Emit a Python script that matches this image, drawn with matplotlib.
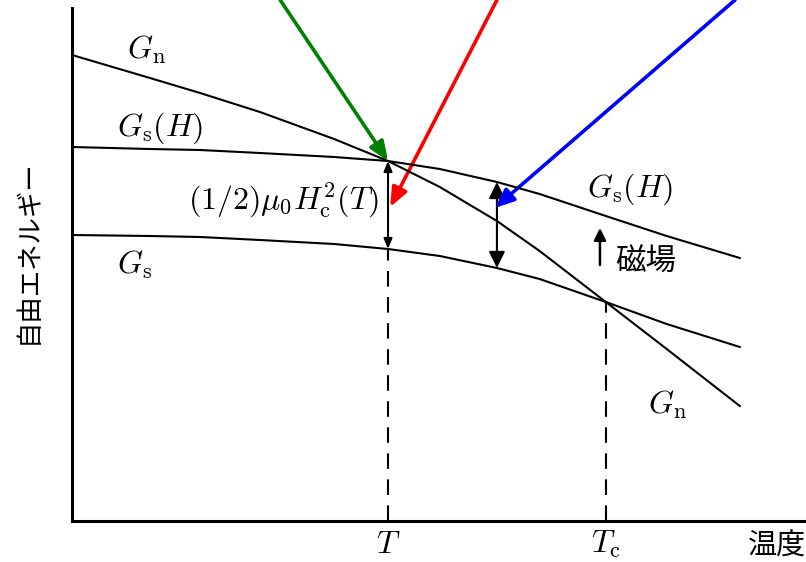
import matplotlib
matplotlib.use('Agg')
import matplotlib.pyplot as plt
from matplotlib.patches import FancyArrowPatch

plt.rcParams['font.family'] = ['Noto Sans CJK JP', 'DejaVu Sans']
plt.rcParams['mathtext.fontset'] = 'cm'

# 温度（T_c = 1 で規格化）
temp = [0.0, 0.146, 0.240, 0.352, 0.491, 0.592, 0.689, 0.796, 0.876, 1.0, 1.114, 1.251]
# 自由エネルギー
g_n = [4.66, 4.43, 4.28, 4.09, 3.82, 3.60, 3.34, 3.00, 2.70, 2.19, 1.72, 1.15]
g_s_h = [3.74, 3.72, 3.71, 3.68, 3.64, 3.60, 3.52, 3.39, 3.27, 3.05, 2.85, 2.63]
g_s = [2.86, 2.85, 2.84, 2.81, 2.77, 2.72, 2.65, 2.53, 2.42, 2.19, 1.97, 1.74]

i_t = 5     # T
i_tc = 9    # T_c
i_mid = 7   # 2本目の両矢印

tick_labels = ['$T$', '$T_\\mathrm{c}$']

# 色付き矢印（始点, 終点）
pointer_colors = ['#008000', '#ff0000', '#0000ff']
pointer_start = [(0.390, 5.21), (0.796, 5.21), (1.242, 5.21)]
pointer_tip = [(0.592, 3.60), (0.596, 3.14), (0.792, 3.13)]

# 磁場の向きを示す小さな矢印
field_arrow = [(0.989, 2.56), (0.989, 2.93)]

fig = plt.figure(figsize=(8.06, 5.62), dpi=100)
ax = fig.add_axes([72 / 806, 41 / 562, 734 / 806, 521 / 562])
ax.set_xlim(0, 1.375)
ax.set_ylim(0, 5.21)

for s in ['top', 'right']:
    ax.spines[s].set_visible(False)
for s in ['left', 'bottom']:
    ax.spines[s].set_linewidth(2.2)
ax.spines['left'].set_bounds(0, 5.13)
ax.set_yticks([])
ax.set_xticks([temp[i_t], temp[i_tc]], tick_labels, fontsize=23)
ax.tick_params(axis='x', length=0, pad=5)

# 曲線
ax.plot(temp, g_n, color='black', lw=1.5)
ax.plot(temp, g_s_h, color='black', lw=1.5)
ax.plot(temp, g_s, color='black', lw=1.5)

# 破線
dash = (0, (7.5, 5.0))
ax.plot([temp[i_t], temp[i_t]], [0, g_s[i_t]], color='black', lw=1.5, ls=dash)
ax.plot([temp[i_tc], temp[i_tc]], [0, g_s[i_tc]], color='black', lw=1.5, ls=dash)


def arrow(p0, p1, style, scale, lw, color='black'):
    ax.add_patch(FancyArrowPatch(p0, p1, arrowstyle=style, mutation_scale=scale,
                                 color=color, lw=lw, shrinkA=0, shrinkB=0,
                                 clip_on=False))


# 両矢印
arrow((temp[i_t], g_s_h[i_t]), (temp[i_t], g_s[i_t]),
      '<|-|>,head_length=0.6,head_width=0.25', 10, 1.5)
arrow((temp[i_mid], g_s_h[i_mid]), (temp[i_mid], g_s[i_mid]),
      '<|-|>,head_length=0.55,head_width=0.27', 18, 1.5)
arrow(field_arrow[0], field_arrow[1], '-|>,head_length=0.6,head_width=0.3', 12, 1.8)

for c, p0, p1 in zip(pointer_colors, pointer_start, pointer_tip):
    arrow(p0, p1, '-|>,head_length=0.58,head_width=0.24', 20, 2.6, c)

# ラベル
fs = 23
ax.text(0.140, 4.71, '$G_\\mathrm{n}$', fontsize=fs, ha='center', va='center')
ax.text(0.165, 3.93, '$G_\\mathrm{s}(H)$', fontsize=fs, ha='center', va='center')
ax.text(0.575, 3.21, '$(1/2)\\mu_0 H_\\mathrm{c}^2(T)$', fontsize=fs, ha='right', va='center')
ax.text(0.118, 2.56, '$G_\\mathrm{s}$', fontsize=fs, ha='center', va='center')
ax.text(1.045, 3.32, '$G_\\mathrm{s}(H)$', fontsize=fs, ha='center', va='center')
ax.text(1.116, 1.16, '$G_\\mathrm{n}$', fontsize=fs, ha='center', va='center')
ax.text(1.017, 2.59, '磁場', fontsize=22, ha='left', va='center')
ax.text(1.320, -0.26, '温度', fontsize=21, ha='center', va='center', clip_on=False)
fig.text(28 / 806, 1 - 252 / 562, '自由エネルギー', fontsize=19, rotation=90,
         ha='center', va='center')

fig.savefig('out.png', dpi=100)
